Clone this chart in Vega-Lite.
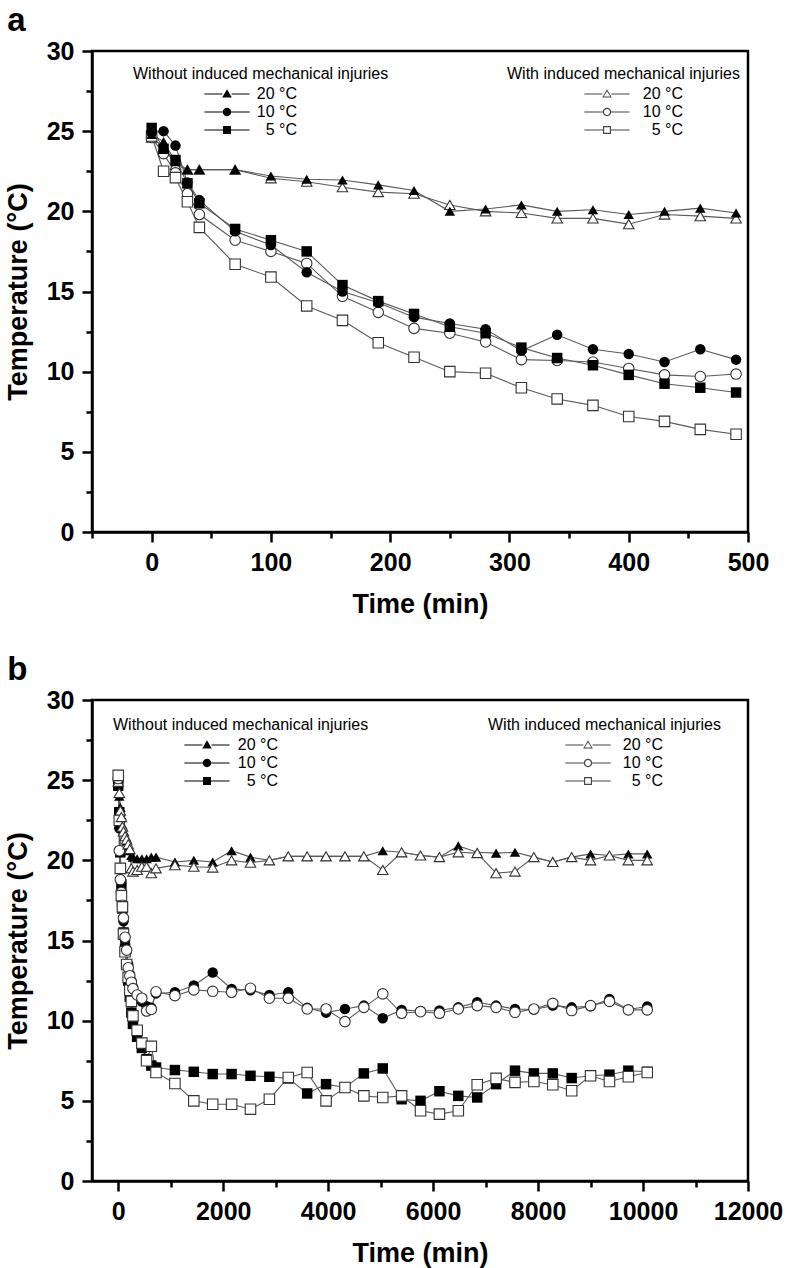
{
  "$schema": "https://vega.github.io/schema/vega-lite/v6.json",
  "background": "white",
  "padding": {"left": 2, "top": 3, "right": 2, "bottom": 2},
  "spacing": 33,
  "config": {
    "font": "Liberation Sans",
    "view": {"stroke": "black", "strokeWidth": 2.5},
    "axis": {"grid": false, "domainColor": "black", "domainWidth": 2.5, "tickColor": "black", "tickWidth": 2.5, "labelFont": "Liberation Sans", "labelFontWeight": "bold", "labelFontSize": 25, "labelColor": "black", "titleFont": "Liberation Sans", "titleFontWeight": "bold", "titleFontSize": 27, "titleColor": "black", "labelFlush": false, "labelOverlap": false},
    "title": {"anchor": "start", "frame": "bounds", "fontSize": 33, "fontWeight": "bold", "color": "black", "offset": 1, "font": "Liberation Sans"},
    "legend": {"orient": "none", "titleFont": "Liberation Sans", "titleFontSize": 16, "titleFontWeight": "normal", "titleColor": "black", "titlePadding": 4, "titleLimit": 600, "labelLimit": 200, "labelFont": "Liberation Sans", "labelFontSize": 16, "labelColor": "black", "labelAlign": "right", "symbolSize": 70, "rowPadding": 2, "symbolStrokeWidth": 0}
  },
  "datasets": {
    "aW": [
      {"t": 0, "20 °C": 24.8, "10 °C": 24.9, "5 °C": 25.2},
      {"t": 10, "20 °C": 24.35, "10 °C": 25.0, "5 °C": 23.9},
      {"t": 20, "20 °C": 23.1, "10 °C": 24.1, "5 °C": 23.2},
      {"t": 30, "20 °C": 22.6, "10 °C": 21.8, "5 °C": 21.75},
      {"t": 40, "20 °C": 22.6, "10 °C": 20.7, "5 °C": 20.5},
      {"t": 70, "20 °C": 22.6, "10 °C": 18.75, "5 °C": 18.9},
      {"t": 100, "20 °C": 22.2, "10 °C": 17.9, "5 °C": 18.2},
      {"t": 130, "20 °C": 22.0, "10 °C": 16.2, "5 °C": 17.5},
      {"t": 160, "20 °C": 21.95, "10 °C": 15.0, "5 °C": 15.4},
      {"t": 190, "20 °C": 21.65, "10 °C": 14.3, "5 °C": 14.4},
      {"t": 220, "20 °C": 21.3, "10 °C": 13.4, "5 °C": 13.6},
      {"t": 250, "20 °C": 20.0, "10 °C": 13.0, "5 °C": 12.8},
      {"t": 280, "20 °C": 20.15, "10 °C": 12.65, "5 °C": 12.4},
      {"t": 310, "20 °C": 20.4, "10 °C": 11.3, "5 °C": 11.5},
      {"t": 340, "20 °C": 20.0, "10 °C": 12.3, "5 °C": 10.85},
      {"t": 370, "20 °C": 20.1, "10 °C": 11.4, "5 °C": 10.4},
      {"t": 400, "20 °C": 19.8, "10 °C": 11.1, "5 °C": 9.8},
      {"t": 430, "20 °C": 20.0, "10 °C": 10.6, "5 °C": 9.25},
      {"t": 460, "20 °C": 20.2, "10 °C": 11.4, "5 °C": 9.0},
      {"t": 490, "20 °C": 19.9, "10 °C": 10.75, "5 °C": 8.7}
    ],
    "aI": [
      {"t": 0, "20 °C": 24.6, "10 °C": 24.6, "5 °C": 24.7},
      {"t": 10, "20 °C": 24.0, "10 °C": 23.6, "5 °C": 22.5},
      {"t": 20, "20 °C": 22.9, "10 °C": 22.4, "5 °C": 22.1},
      {"t": 30, "20 °C": 22.6, "10 °C": 21.1, "5 °C": 20.6},
      {"t": 40, "20 °C": 22.6, "10 °C": 19.8, "5 °C": 19.0},
      {"t": 70, "20 °C": 22.6, "10 °C": 18.2, "5 °C": 16.7},
      {"t": 100, "20 °C": 22.06, "10 °C": 17.5, "5 °C": 15.9},
      {"t": 130, "20 °C": 21.85, "10 °C": 16.75, "5 °C": 14.1},
      {"t": 160, "20 °C": 21.5, "10 °C": 14.7, "5 °C": 13.2},
      {"t": 190, "20 °C": 21.2, "10 °C": 13.7, "5 °C": 11.8},
      {"t": 220, "20 °C": 21.1, "10 °C": 12.7, "5 °C": 10.9},
      {"t": 250, "20 °C": 20.4, "10 °C": 12.4, "5 °C": 10.0},
      {"t": 280, "20 °C": 20.0, "10 °C": 11.85, "5 °C": 9.9},
      {"t": 310, "20 °C": 19.9, "10 °C": 10.75, "5 °C": 9.0},
      {"t": 340, "20 °C": 19.56, "10 °C": 10.7, "5 °C": 8.3},
      {"t": 370, "20 °C": 19.56, "10 °C": 10.6, "5 °C": 7.9},
      {"t": 400, "20 °C": 19.2, "10 °C": 10.2, "5 °C": 7.2},
      {"t": 430, "20 °C": 19.8, "10 °C": 9.8, "5 °C": 6.9},
      {"t": 460, "20 °C": 19.7, "10 °C": 9.7, "5 °C": 6.4},
      {"t": 490, "20 °C": 19.56, "10 °C": 9.85, "5 °C": 6.1}
    ],
    "bW": [
      {"t": 0, "20 °C": 24.6, "10 °C": 24.9, "5 °C": 24.7},
      {"t": 20, "20 °C": 24.0, "10 °C": 22.0, "5 °C": 23.0},
      {"t": 40, "20 °C": 23.3, "10 °C": 19.5, "5 °C": 20.5},
      {"t": 60, "20 °C": 22.8, "10 °C": 18.0, "5 °C": 18.5},
      {"t": 80, "20 °C": 22.2, "10 °C": 17.0, "5 °C": 17.0},
      {"t": 100, "20 °C": 21.8, "10 °C": 16.2, "5 °C": 15.5},
      {"t": 130, "20 °C": 21.5, "10 °C": 15.0, "5 °C": 14.5},
      {"t": 160, "20 °C": 21.2, "10 °C": 14.3, "5 °C": 13.5},
      {"t": 190, "20 °C": 20.9, "10 °C": 13.5, "5 °C": 12.5},
      {"t": 220, "20 °C": 20.6, "10 °C": 12.9, "5 °C": 11.5},
      {"t": 250, "20 °C": 20.3, "10 °C": 12.5, "5 °C": 10.5},
      {"t": 280, "20 °C": 20.2, "10 °C": 12.1, "5 °C": 9.8},
      {"t": 360, "20 °C": 20.1, "10 °C": 11.5, "5 °C": 9.0},
      {"t": 450, "20 °C": 20.1, "10 °C": 11.2, "5 °C": 8.3},
      {"t": 540, "20 °C": 20.1, "10 °C": 10.9, "5 °C": 7.6},
      {"t": 630, "20 °C": 20.2, "10 °C": 10.8, "5 °C": 7.2},
      {"t": 720, "20 °C": 20.2, "10 °C": 11.7, "5 °C": 7.08},
      {"t": 1080, "20 °C": 19.9, "10 °C": 11.77, "5 °C": 6.92},
      {"t": 1440, "20 °C": 20.0, "10 °C": 12.19, "5 °C": 6.81},
      {"t": 1800, "20 °C": 19.9, "10 °C": 13.0, "5 °C": 6.67},
      {"t": 2160, "20 °C": 20.6, "10 °C": 11.98, "5 °C": 6.67},
      {"t": 2520, "20 °C": 20.2, "10 °C": 11.9, "5 °C": 6.56},
      {"t": 2880, "20 °C": 20.0, "10 °C": 11.6, "5 °C": 6.5},
      {"t": 3240, "20 °C": 20.25, "10 °C": 11.77, "5 °C": 6.4},
      {"t": 3600, "20 °C": 20.25, "10 °C": 10.8, "5 °C": 5.46},
      {"t": 3960, "20 °C": 20.25, "10 °C": 10.5, "5 °C": 6.04},
      {"t": 4320, "20 °C": 20.25, "10 °C": 10.73, "5 °C": 5.83},
      {"t": 4680, "20 °C": 20.25, "10 °C": 10.94, "5 °C": 6.71},
      {"t": 5040, "20 °C": 20.6, "10 °C": 10.15, "5 °C": 7.02},
      {"t": 5400, "20 °C": 20.5, "10 °C": 10.67, "5 °C": 5.1},
      {"t": 5760, "20 °C": 20.3, "10 °C": 10.6, "5 °C": 5.0},
      {"t": 6120, "20 °C": 20.2, "10 °C": 10.63, "5 °C": 5.6},
      {"t": 6480, "20 °C": 20.9, "10 °C": 10.83, "5 °C": 5.31},
      {"t": 6840, "20 °C": 20.5, "10 °C": 11.15, "5 °C": 5.21},
      {"t": 7200, "20 °C": 20.45, "10 °C": 10.94, "5 °C": 6.04},
      {"t": 7560, "20 °C": 20.5, "10 °C": 10.73, "5 °C": 6.88},
      {"t": 7920, "20 °C": 20.2, "10 °C": 10.7, "5 °C": 6.71},
      {"t": 8280, "20 °C": 19.9, "10 °C": 10.94, "5 °C": 6.71},
      {"t": 8640, "20 °C": 20.2, "10 °C": 10.83, "5 °C": 6.42},
      {"t": 9000, "20 °C": 20.4, "10 °C": 10.9, "5 °C": 6.56},
      {"t": 9360, "20 °C": 20.3, "10 °C": 11.35, "5 °C": 6.63},
      {"t": 9720, "20 °C": 20.4, "10 °C": 10.7, "5 °C": 6.88},
      {"t": 10080, "20 °C": 20.4, "10 °C": 10.88, "5 °C": 6.81}
    ],
    "bI": [
      {"t": 0, "20 °C": 24.9, "10 °C": 25.1, "5 °C": 25.3},
      {"t": 20, "20 °C": 24.2, "10 °C": 20.6, "5 °C": 22.5},
      {"t": 40, "20 °C": 23.1, "10 °C": 18.8, "5 °C": 19.5},
      {"t": 60, "20 °C": 22.7, "10 °C": 18.0, "5 °C": 17.8},
      {"t": 80, "20 °C": 22.1, "10 °C": 17.2, "5 °C": 17.1},
      {"t": 100, "20 °C": 21.8, "10 °C": 16.4, "5 °C": 15.4},
      {"t": 130, "20 °C": 21.5, "10 °C": 15.2, "5 °C": 14.3},
      {"t": 160, "20 °C": 21.3, "10 °C": 14.4, "5 °C": 13.5},
      {"t": 190, "20 °C": 21.0, "10 °C": 13.3, "5 °C": 12.7},
      {"t": 220, "20 °C": 20.7, "10 °C": 12.8, "5 °C": 11.9},
      {"t": 250, "20 °C": 19.5, "10 °C": 12.4, "5 °C": 11.2},
      {"t": 280, "20 °C": 19.3, "10 °C": 12.0, "5 °C": 10.3},
      {"t": 360, "20 °C": 19.4, "10 °C": 11.6, "5 °C": 9.4},
      {"t": 450, "20 °C": 19.6, "10 °C": 11.4, "5 °C": 8.6},
      {"t": 540, "20 °C": 19.6, "10 °C": 10.6, "5 °C": 7.5},
      {"t": 630, "20 °C": 19.2, "10 °C": 10.7, "5 °C": 8.4},
      {"t": 720, "20 °C": 19.5, "10 °C": 11.8, "5 °C": 6.77},
      {"t": 1080, "20 °C": 19.7, "10 °C": 11.56, "5 °C": 6.08},
      {"t": 1440, "20 °C": 19.6, "10 °C": 11.92, "5 °C": 5.0},
      {"t": 1800, "20 °C": 19.55, "10 °C": 11.83, "5 °C": 4.79},
      {"t": 2160, "20 °C": 20.0, "10 °C": 11.77, "5 °C": 4.79},
      {"t": 2520, "20 °C": 19.85, "10 °C": 12.02, "5 °C": 4.48},
      {"t": 2880, "20 °C": 20.0, "10 °C": 11.4, "5 °C": 5.1},
      {"t": 3240, "20 °C": 20.25, "10 °C": 11.4, "5 °C": 6.46},
      {"t": 3600, "20 °C": 20.25, "10 °C": 10.73, "5 °C": 6.77},
      {"t": 3960, "20 °C": 20.25, "10 °C": 10.73, "5 °C": 5.0},
      {"t": 4320, "20 °C": 20.25, "10 °C": 9.94, "5 °C": 5.83},
      {"t": 4680, "20 °C": 20.25, "10 °C": 10.83, "5 °C": 5.31},
      {"t": 5040, "20 °C": 19.4, "10 °C": 11.67, "5 °C": 5.21},
      {"t": 5400, "20 °C": 20.5, "10 °C": 10.46, "5 °C": 5.31},
      {"t": 5760, "20 °C": 20.3, "10 °C": 10.56, "5 °C": 4.38},
      {"t": 6120, "20 °C": 20.2, "10 °C": 10.46, "5 °C": 4.17},
      {"t": 6480, "20 °C": 20.5, "10 °C": 10.73, "5 °C": 4.38},
      {"t": 6840, "20 °C": 20.45, "10 °C": 10.94, "5 °C": 6.0},
      {"t": 7200, "20 °C": 19.2, "10 °C": 10.83, "5 °C": 6.4},
      {"t": 7560, "20 °C": 19.3, "10 °C": 10.52, "5 °C": 6.15},
      {"t": 7920, "20 °C": 20.2, "10 °C": 10.73, "5 °C": 6.21},
      {"t": 8280, "20 °C": 19.9, "10 °C": 11.08, "5 °C": 6.0},
      {"t": 8640, "20 °C": 20.2, "10 °C": 10.63, "5 °C": 5.63},
      {"t": 9000, "20 °C": 20.0, "10 °C": 10.94, "5 °C": 6.56},
      {"t": 9360, "20 °C": 20.3, "10 °C": 11.2, "5 °C": 6.21},
      {"t": 9720, "20 °C": 20.0, "10 °C": 10.67, "5 °C": 6.5},
      {"t": 10080, "20 °C": 20.0, "10 °C": 10.67, "5 °C": 6.77}
    ]
  },
  "vconcat": [
    {
      "width": 656,
      "height": 481,
      "title": {"text": "a", "dx": 3},
      "encoding": {
        "x": {"field": "t", "type": "quantitative", "scale": {"domain": [-50, 500], "nice": false, "zero": false},
          "axis": {"title": "Time (min)", "values": [-50, 0, 50, 100, 150, 200, 250, 300, 350, 400, 450, 500], "labelExpr": "datum.value % 100 === 0 ? datum.label : ''", "tickSize": {"condition": {"test": "datum.value % 100 === 0", "value": 10}, "value": 6}, "labelPadding": 8, "titlePadding": 16, "format": "d"}},
        "y": {"field": "temp", "type": "quantitative", "scale": {"domain": [0, 30], "nice": false},
          "axis": {"title": "Temperature (°C)", "values": [0, 2.5, 5, 7.5, 10, 12.5, 15, 17.5, 20, 22.5, 25, 27.5, 30], "labelExpr": "datum.value % 5 === 0 ? datum.label : ''", "tickSize": {"condition": {"test": "datum.value % 5 === 0", "value": 10}, "value": 6}, "labelPadding": 8, "titlePadding": 14}}
      },
      "layer": [
        {"data": {"name": "aW"}, "transform": [{"fold": ["20 °C", "10 °C", "5 °C"], "as": ["cond", "temp"]}],
          "mark": {"type": "line", "color": "#5a5a5a", "strokeWidth": 1.1},
          "encoding": {"detail": {"field": "cond"}}},
        {"data": {"name": "aI"}, "transform": [{"fold": ["20 °C", "10 °C", "5 °C"], "as": ["cond", "temp"]}],
          "mark": {"type": "line", "color": "#5a5a5a", "strokeWidth": 1.1},
          "encoding": {"detail": {"field": "cond"}}},
        {"data": {"name": "aI"}, "transform": [{"fold": ["20 °C", "10 °C", "5 °C"], "as": ["cond", "temp"]}],
          "mark": {"type": "point", "fill": "white", "stroke": "#333333", "strokeWidth": 1.1, "size": 110, "opacity": 1},
          "encoding": {"shape": {"field": "cond", "type": "nominal", "scale": {"domain": ["20 °C", "10 °C", "5 °C"], "range": ["triangle-up", "circle", "square"]}, "legend": null}}},
        {"data": {"name": "aW"}, "transform": [{"fold": ["20 °C", "10 °C", "5 °C"], "as": ["cond", "temp"]}],
          "mark": {"type": "point", "filled": true, "color": "black", "size": 110, "opacity": 1},
          "encoding": {"shape": {"field": "cond", "type": "nominal", "scale": {"domain": ["20 °C", "10 °C", "5 °C"], "range": ["triangle-up", "circle", "square"]}, "legend": null}}},
        {"data": {"values": []},
          "mark": {"type": "point", "filled": true, "color": "black", "opacity": 1},
          "encoding": {"shape": {"field": "cond", "type": "nominal", "scale": {"domain": ["20 °C", "10 °C", "5 °C"], "range": [
              "M-5.4,-0.12H-1.1V0.12H-5.4ZM1.1,-0.12H5.4V0.12H1.1ZM0,-1.15L1.15,0.85H-1.15Z",
              "M-5.4,-0.12H-1V0.12H-5.4ZM1,-0.12H5.4V0.12H1ZM1,0A1,1 0 1,1 -1,0A1,1 0 1,1 1,0Z",
              "M-5.4,-0.12H-0.95V0.12H-5.4ZM0.95,-0.12H5.4V0.12H0.95ZM-0.95,-0.95H0.95V0.95H-0.95Z"]},
            "legend": {"title": "Without induced mechanical injuries", "legendX": 41, "legendY": 15, "symbolOffset": 86, "labelOffset": 62, "symbolFillColor": "black", "symbolOpacity": 1}}}},
        {"data": {"values": []},
          "mark": {"type": "point", "filled": true, "color": "#444444", "opacity": 1},
          "encoding": {"shape": {"field": "cond", "type": "nominal", "scale": {"domain": ["20 °C", "10 °C", "5 °C"], "range": [
              "M-5.4,-0.12H-1.1V0.12H-5.4ZM1.1,-0.12H5.4V0.12H1.1ZM0,-1.15L1.15,0.85H-1.15ZM0,-0.68L-0.78,0.6H0.78Z",
              "M-5.4,-0.12H-1V0.12H-5.4ZM1,-0.12H5.4V0.12H1ZM1,0A1,1 0 1,1 -1,0A1,1 0 1,1 1,0ZM0.7,0A0.7,0.7 0 1,0 -0.7,0A0.7,0.7 0 1,0 0.7,0Z",
              "M-5.4,-0.12H-0.95V0.12H-5.4ZM0.95,-0.12H5.4V0.12H0.95ZM-0.95,-0.95H0.95V0.95H-0.95ZM-0.68,-0.68V0.68H0.68V-0.68Z"]},
            "legend": {"title": "With induced mechanical injuries", "legendX": 415, "legendY": 15, "symbolOffset": 92, "labelOffset": 68, "symbolFillColor": "#444444", "symbolOpacity": 1}}}}
      ],
      "resolve": {"scale": {"shape": "independent"}}
    },
    {
      "width": 656,
      "height": 481,
      "title": {"text": "b", "dx": 3},
      "encoding": {
        "x": {"field": "t", "type": "quantitative", "scale": {"domain": [-500, 12000], "nice": false, "zero": false},
          "axis": {"title": "Time (min)", "values": [0, 1000, 2000, 3000, 4000, 5000, 6000, 7000, 8000, 9000, 10000, 11000, 12000], "labelExpr": "datum.value % 2000 === 0 ? datum.label : ''", "tickSize": {"condition": {"test": "datum.value % 2000 === 0", "value": 10}, "value": 6}, "labelPadding": 8, "titlePadding": 16, "format": "d"}},
        "y": {"field": "temp", "type": "quantitative", "scale": {"domain": [0, 30], "nice": false},
          "axis": {"title": "Temperature (°C)", "values": [0, 2.5, 5, 7.5, 10, 12.5, 15, 17.5, 20, 22.5, 25, 27.5, 30], "labelExpr": "datum.value % 5 === 0 ? datum.label : ''", "tickSize": {"condition": {"test": "datum.value % 5 === 0", "value": 10}, "value": 6}, "labelPadding": 8, "titlePadding": 14}}
      },
      "layer": [
        {"data": {"name": "bW"}, "transform": [{"fold": ["20 °C", "10 °C", "5 °C"], "as": ["cond", "temp"]}],
          "mark": {"type": "line", "color": "#5a5a5a", "strokeWidth": 1.1},
          "encoding": {"detail": {"field": "cond"}}},
        {"data": {"name": "bI"}, "transform": [{"fold": ["20 °C", "10 °C", "5 °C"], "as": ["cond", "temp"]}],
          "mark": {"type": "line", "color": "#5a5a5a", "strokeWidth": 1.1},
          "encoding": {"detail": {"field": "cond"}}},
        {"data": {"name": "bW"}, "transform": [{"fold": ["20 °C", "10 °C", "5 °C"], "as": ["cond", "temp"]}],
          "mark": {"type": "point", "filled": true, "color": "black", "size": 110, "opacity": 1},
          "encoding": {"shape": {"field": "cond", "type": "nominal", "scale": {"domain": ["20 °C", "10 °C", "5 °C"], "range": ["triangle-up", "circle", "square"]}, "legend": null}}},
        {"data": {"name": "bI"}, "transform": [{"fold": ["20 °C", "10 °C", "5 °C"], "as": ["cond", "temp"]}],
          "mark": {"type": "point", "fill": "white", "stroke": "#333333", "strokeWidth": 1.1, "size": 110, "opacity": 1},
          "encoding": {"shape": {"field": "cond", "type": "nominal", "scale": {"domain": ["20 °C", "10 °C", "5 °C"], "range": ["triangle-up", "circle", "square"]}, "legend": null}}},
        {"data": {"values": []},
          "mark": {"type": "point", "filled": true, "color": "black", "opacity": 1},
          "encoding": {"shape": {"field": "cond", "type": "nominal", "scale": {"domain": ["20 °C", "10 °C", "5 °C"], "range": [
              "M-5.4,-0.12H-1.1V0.12H-5.4ZM1.1,-0.12H5.4V0.12H1.1ZM0,-1.15L1.15,0.85H-1.15Z",
              "M-5.4,-0.12H-1V0.12H-5.4ZM1,-0.12H5.4V0.12H1ZM1,0A1,1 0 1,1 -1,0A1,1 0 1,1 1,0Z",
              "M-5.4,-0.12H-0.95V0.12H-5.4ZM0.95,-0.12H5.4V0.12H0.95ZM-0.95,-0.95H0.95V0.95H-0.95Z"]},
            "legend": {"title": "Without induced mechanical injuries", "legendX": 21, "legendY": 17, "symbolOffset": 86, "labelOffset": 63, "symbolFillColor": "black", "symbolOpacity": 1}}}},
        {"data": {"values": []},
          "mark": {"type": "point", "filled": true, "color": "#444444", "opacity": 1},
          "encoding": {"shape": {"field": "cond", "type": "nominal", "scale": {"domain": ["20 °C", "10 °C", "5 °C"], "range": [
              "M-5.4,-0.12H-1.1V0.12H-5.4ZM1.1,-0.12H5.4V0.12H1.1ZM0,-1.15L1.15,0.85H-1.15ZM0,-0.68L-0.78,0.6H0.78Z",
              "M-5.4,-0.12H-1V0.12H-5.4ZM1,-0.12H5.4V0.12H1ZM1,0A1,1 0 1,1 -1,0A1,1 0 1,1 1,0ZM0.7,0A0.7,0.7 0 1,0 -0.7,0A0.7,0.7 0 1,0 0.7,0Z",
              "M-5.4,-0.12H-0.95V0.12H-5.4ZM0.95,-0.12H5.4V0.12H0.95ZM-0.95,-0.95H0.95V0.95H-0.95ZM-0.68,-0.68V0.68H0.68V-0.68Z"]},
            "legend": {"title": "With induced mechanical injuries", "legendX": 396, "legendY": 17, "symbolOffset": 92, "labelOffset": 67, "symbolFillColor": "#444444", "symbolOpacity": 1}}}}
      ],
      "resolve": {"scale": {"shape": "independent"}}
    }
  ],
  "resolve": {"scale": {"shape": "independent", "x": "independent"}}
}
